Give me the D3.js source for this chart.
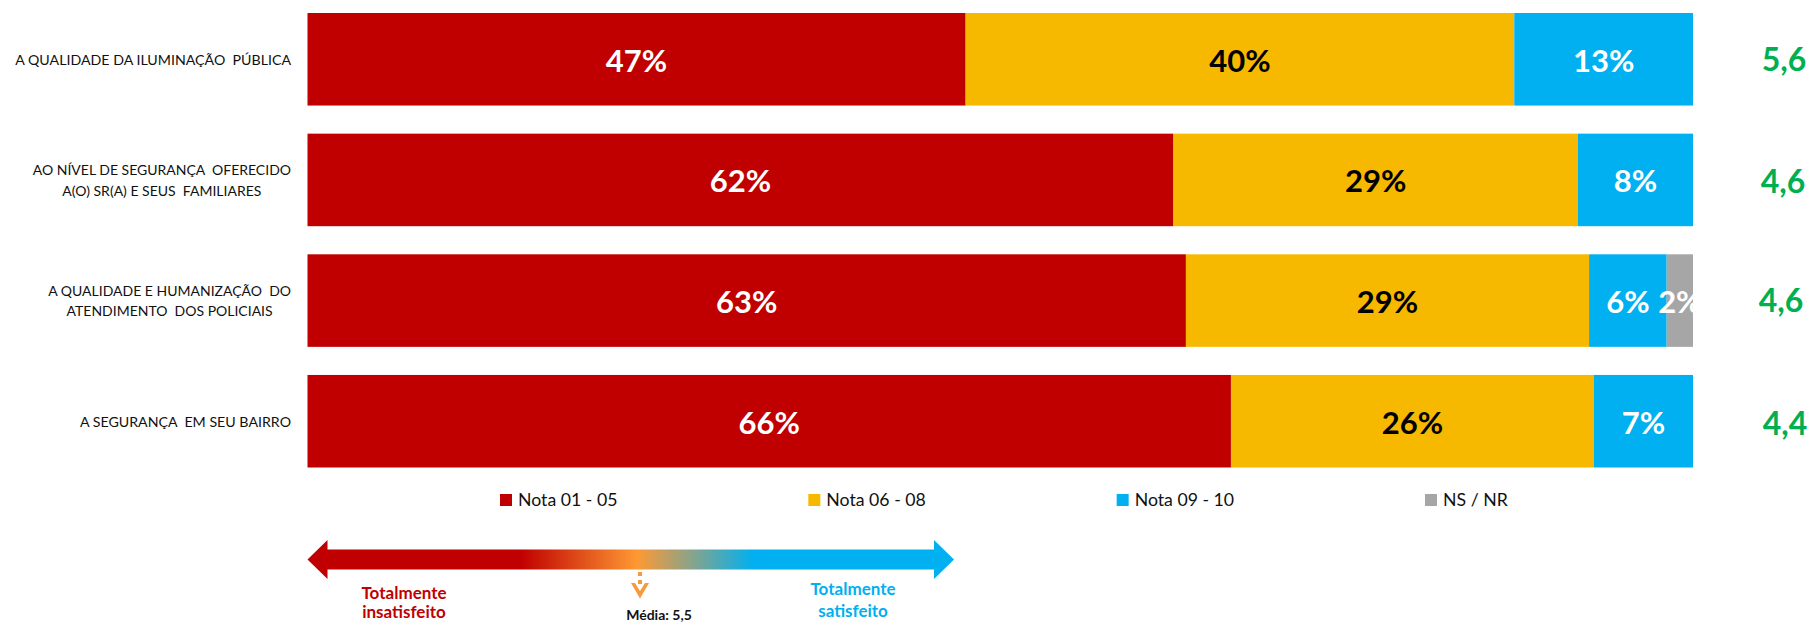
<!DOCTYPE html>
<html><head><meta charset="utf-8">
<script src="https://cdn.jsdelivr.net/npm/d3@7"></script>
<style>html,body{margin:0;padding:0;background:#fff}svg{display:block}text{font-family:Lato,"Open Sans",sans-serif;white-space:pre}</style>
</head><body><svg id="c" width="1811" height="622"></svg>
<script>
const categories = [
  ["A QUALIDADE DA ILUMINAÇÃO  PÚBLICA"],
  ["AO NÍVEL DE SEGURANÇA  OFERECIDO","A(O) SR(A) E SEUS  FAMILIARES"],
  ["A QUALIDADE E HUMANIZAÇÃO  DO","ATENDIMENTO  DOS POLICIAIS"],
  ["A SEGURANÇA  EM SEU BAIRRO"]
];
const seriesNames = ["Nota 01 - 05","Nota 06 - 08","Nota 09 - 10","NS / NR"];
const seriesColors = ["#C00000","#F6B900","#00B0F0","#A6A6A6"];
const labelColors = ["#fff","#000","#fff","#fff"];
const nota0105 = [47.5,62.5,63.4,66.65];
const nota0608 = [39.6,29.2,29.1,26.2];
const nota0910 = [12.9,8.3,5.6,7.15];
const nsnr     = [0,0,1.9,0];
const labels0105 = ["47%","62%","63%","66%"];
const labels0608 = ["40%","29%","29%","26%"];
const labels0910 = ["13%","8%","6%","7%"];
const labelsNsnr = ["","","2%",""];
const labelSets = [labels0105,labels0608,labels0910,labelsNsnr];
const medias = ["5,6","4,6","4,6","4,4"];
const mediaDx = [1,0,-2,2], mediaDy = [0,1,-1,2];

const svg = d3.select("#c");
const x = d3.scaleLinear().domain([0,100]).range([307.5,1693]);
const y = d3.scaleBand().domain(d3.range(4)).range([13,467.5]).paddingInner(0.233).paddingOuter(0);
const table = categories.map((c,i)=>({i,s0:nota0105[i],s1:nota0608[i],s2:nota0910[i],s3:nsnr[i]}));
const stack = d3.stack().keys(["s0","s1","s2","s3"])(table);

stack.forEach((layer,k)=>{
  const g = svg.append("g");
  g.selectAll("rect").data(layer).join("rect")
    .attr("x",d=>x(d[0])).attr("y",d=>y(d.data.i))
    .attr("width",d=>x(d[1])-x(d[0])).attr("height",y.bandwidth())
    .attr("fill",seriesColors[k]);
});
stack.forEach((layer,k)=>{
  svg.append("g").selectAll("text").data(layer.filter(d=>d[1]>d[0])).join("text")
    .attr("x",d=>x((d[0]+d[1])/2)).attr("y",d=>y(d.data.i)+y.bandwidth()/2+1.5)
    .attr("dy","0.35em").attr("text-anchor","middle")
    .attr("font-size",31).attr("font-weight",700).attr("fill",labelColors[k])
    .text(d=>labelSets[k][d.data.i]);
});
// category labels: centred lines in a block right-aligned at the bar edge
categories.forEach((lines,i)=>{
  const g = svg.append("g");
  const ts = g.selectAll("text").data(lines).join("text")
    .attr("font-size",lines.length>1?14:14.2).attr("fill","#111").attr("text-anchor","middle")
    .attr("y",(d,j)=>y(i)+y.bandwidth()/2+(j-(lines.length-1)/2)*20.5+(lines.length>1?0.5:1))
    .attr("dy","0.35em").text(d=>d);
  const w = d3.max(ts.nodes(),n=>n.getComputedTextLength());
  ts.attr("x",291-w/2);
});
// means
svg.append("g").selectAll("text").data(medias).join("text")
  .attr("x",(d,i)=>1783+mediaDx[i]).attr("y",(d,i)=>y(i)+y.bandwidth()/2+1+mediaDy[i])
  .attr("dy","0.35em").attr("text-anchor","middle")
  .attr("font-size",32).attr("font-weight",700).attr("fill","#00B050").text(d=>d);
// legend
const lx = d3.scalePoint().domain(seriesNames).range([500,1425]);
const lg = svg.append("g").selectAll("g").data(seriesNames).join("g")
  .attr("transform",d=>`translate(${lx(d)},500)`);
lg.append("rect").attr("x",0).attr("y",-6).attr("width",12).attr("height",12).attr("fill",(d,i)=>seriesColors[i]);
lg.append("text").attr("x",18).attr("dy","0.35em").attr("font-size",17.7).attr("fill","#111").text(d=>d);
// scale arrow
const defs = svg.append("defs");
const grad = defs.append("linearGradient").attr("id","ag").attr("x1","0").attr("x2","1").attr("y1","0").attr("y2","0");
[[0.33,"#C00000"],[0.51,"#FF9933"],[0.69,"#00B0F0"]].forEach(s=>grad.append("stop").attr("offset",s[0]).attr("stop-color",s[1]));
const ax0=307.5, ax1=954, hl=20, yc=559.5, hs=10, hh=19.5;
svg.append("path").attr("fill","url(#ag)")
  .attr("d",d3.line()([[ax0,yc],[ax0+hl,yc-hh],[ax0+hl,yc-hs],[ax1-hl,yc-hs],[ax1-hl,yc-hh],[ax1,yc],[ax1-hl,yc+hh],[ax1-hl,yc+hs],[ax0+hl,yc+hs],[ax0+hl,yc+hh]])+"Z");
// average marker
const mx=640;
svg.append("rect").attr("x",mx-2).attr("y",572).attr("width",4).attr("height",4).attr("fill","#F79A3E");
svg.append("rect").attr("x",mx-2).attr("y",580).attr("width",4).attr("height",4).attr("fill","#F79A3E");
svg.append("path").attr("fill","#F79A3E").attr("d",d3.line()([[mx-9,583],[mx-5,583],[mx,591],[mx+5,583],[mx+9,583],[mx,598.5]])+"Z");
const anno = [
  {t:"Totalmente",x:404,y:593,c:"#C00000",s:17},{t:"insatisfeito",x:404,y:612.5,c:"#C00000",s:17},
  {t:"Totalmente",x:853,y:589,c:"#00B0F0",s:17},{t:"satisfeito",x:853,y:611,c:"#00B0F0",s:17},
  {t:"Média: 5,5",x:659,y:615,c:"#111",s:14}];
svg.append("g").selectAll("text").data(anno).join("text")
  .attr("x",d=>d.x).attr("y",d=>d.y).attr("dy","0.35em").attr("text-anchor","middle")
  .attr("font-size",d=>d.s).attr("font-weight",700).attr("fill",d=>d.c).text(d=>d.t);
</script></body></html>
